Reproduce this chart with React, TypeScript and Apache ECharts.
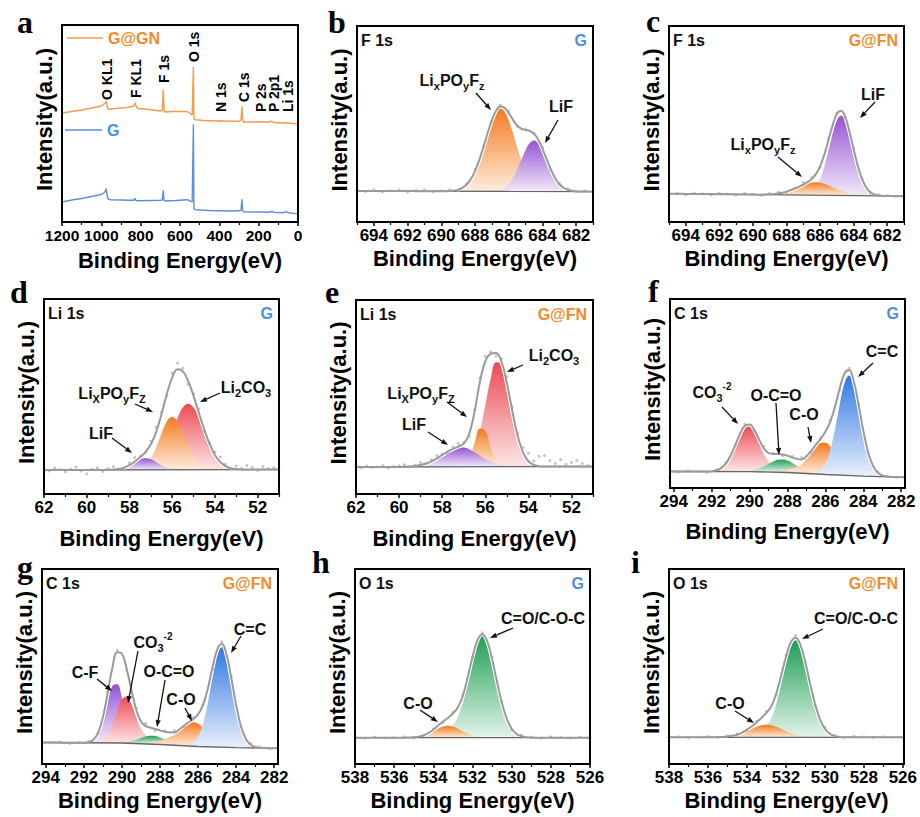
import React, { useEffect, useRef } from "react";
import * as echarts from "echarts";

const SANS = 'Arial, "Liberation Sans", Helvetica, sans-serif';
const SERIF = '"Times New Roman", "Liberation Serif", Times, serif';
const BLUE_TXT = "#4A8FE0";
const ORANGE_TXT = "#F28A2B";

// ---------------- tick labels ----------------
const ticksA = [1200, 1000, 800, 600, 400, 200, 0];
const minorA = [1100, 900, 700, 500, 300, 100];
const ticksF = [694, 692, 690, 688, 686, 684, 682];
const minorF = [695, 693, 691, 689, 687, 685, 683, 681];
const ticksLi = [62, 60, 58, 56, 54, 52];
const minorLi = [61, 59, 57, 55, 53, 51];
const ticksC = [294, 292, 290, 288, 286, 284, 282];
const minorC = [293, 291, 289, 287, 285, 283];
const ticksO = [538, 536, 534, 532, 530, 528, 526];
const minorO = [537, 535, 533, 531, 529, 527];

// ---------------- panel a: survey ----------------
const surveyGGN = [[1200,109],[1150,110.5],[1100,112],[1050,114],[1000,116],[990,117.5],[982,118.5],[976,120.7],[972,118],[966,113],[958,112.7],[930,113.5],[900,114],[870,114.5],[845,115.5],[834,116],[829,119.3],[824,116],[815,113.5],[780,113],[740,112],[700,111],[690,111.5],[685,132.3],[681,111],[675,110],[640,110.5],[600,110.5],[565,110.5],[548,108.5],[538,107],[532,155],[529,103],[522,102.3],[480,101.5],[412,101],[400,101.3],[350,100.8],[300,100.7],[290,102],[285,115.7],[282,103],[278,100],[240,100],[190,100.2],[158,99.7],[134,100.7],[120,99.5],[80,99],[55,99.3],[30,98.5],[0,98.3]];
const surveyG = [[1200,20],[1150,22],[1100,23.5],[1050,25.5],[1000,27.5],[988,29],[980,30.5],[976,33.3],[972,29],[966,23],[955,22.3],[900,22],[860,21.8],[834,21.7],[829,23.7],[824,21.5],[800,21.3],[750,21.5],[700,21.7],[690,22],[685,31.7],[681,21.5],[675,21],[620,21.5],[564,22.3],[548,21],[538,20],[532,97.7],[529,13],[522,12.3],[450,11.5],[400,11.3],[330,11],[290,11.5],[285,22.7],[282,12],[278,10.2],[200,10],[150,9.8],[134,10.5],[120,9.6],[80,9.3],[57,10.4],[52,9.2],[20,8.6],[0,8.3]];
const surveyPeakNames = ["O KL1", "F KL1", "F 1s", "O 1s", "N 1s", "C 1s", "P 2s", "P 2p1", "Li 1s"];

// ---------------- b: F 1s (G) ----------------
const bBaseline = [[695,31],[681,30.5]];
const bLixPOyFz = [[689.5,0.3],[689.25,0.7],[689,1.6],[688.75,3.4],[688.5,6.7],[688.25,12.1],[688,20.2],[687.75,31.1],[687.5,44.3],[687.25,58.3],[687,70.9],[686.75,79.8],[686.5,83],[686.25,79.8],[686,70.9],[685.75,58.3],[685.5,44.3],[685.25,31.1],[685,20.2],[684.75,12.1],[684.5,6.7],[684.25,3.4],[684,1.6],[683.75,0.7],[683.5,0.3]];
const bLiF = [[687,0.2],[686.75,0.7],[686.5,1.7],[686.25,3.7],[686,7.4],[685.75,13.4],[685.5,21.7],[685.25,31.5],[685,41.2],[684.75,48.3],[684.5,51],[684.25,48.3],[684,41.2],[683.75,31.5],[683.5,21.7],[683.25,13.4],[683,7.4],[682.75,3.7],[682.5,1.7],[682.25,0.7],[682,0.2]];
const bResid = [0.8,-0.5,1.2,-1,0.3,1,-0.8,0.5,1.5,-0.6,0.4,1.2,-1,0.6,1.8,0.5,-1.2,1.5,2,-1,1,0.5,1.2,-0.8,0.6,1,-0.5,0.8,0.2];

// ---------------- c: F 1s (G@FN) ----------------
const cBaseline = [[695,28.3],[681,25.8]];
const cLiF = [[687,0.5],[686.75,1.4],[686.5,3.5],[686.25,8.1],[686,16.3],[685.75,28.9],[685.5,45.1],[685.25,62],[685,75.1],[684.75,80],[684.5,75.1],[684.25,62],[684,45.1],[683.75,28.9],[683.5,16.3],[683.25,8.1],[683,3.5],[682.75,1.4],[682.5,0.5]];
const cLixPOyFz = [[689.25,0.2],[689,0.5],[688.75,0.8],[688.5,1.4],[688.25,2.2],[688,3.3],[687.75,4.8],[687.5,6.5],[687.25,8.3],[687,10.1],[686.75,11.6],[686.5,12.6],[686.25,13],[686,12.6],[685.75,11.6],[685.5,10.1],[685.25,8.3],[685,6.5],[684.75,4.8],[684.5,3.3],[684.25,2.2],[684,1.4],[683.75,0.8],[683.5,0.5],[683.25,0.2]];
const cResid = [-0.5,0.6,-1,0.8,0.2,-0.8,1,0.4,-0.6,1.2,0.3,-0.5,1,1.5,-0.8,0.6,2,1.5,-1,1.2,0.8,-0.6,1,0.4,-0.8,0.6,0.2,-0.4,0.5];

// ---------------- d: Li 1s (G) ----------------
const dBaseline = [[62,24],[51,24.5]];
const dLi2CO3 = [[57.75,0.2],[57.5,0.5],[57.25,1.4],[57,3.5],[56.75,7.6],[56.5,14.7],[56.25,25.3],[56,38.5],[55.75,51.9],[55.5,62.2],[55.25,66],[55,62.2],[54.75,51.9],[54.5,38.5],[54.25,25.3],[54,14.7],[53.75,7.6],[53.5,3.5],[53.25,1.4],[53,0.5],[52.75,0.2]];
const dLixPOyFz = [[57.75,0.5],[57.5,1.7],[57.25,4.9],[57,11.6],[56.75,22.5],[56.5,36.2],[56.25,48.2],[56,53],[55.75,48.2],[55.5,36.2],[55.25,22.5],[55,11.6],[54.75,4.9],[54.5,1.7],[54.25,0.5]];
const dLiF = [[58.75,0.3],[58.5,0.9],[58.25,2.2],[58,4.6],[57.75,7.6],[57.5,10.4],[57.25,11.5],[57,10.4],[56.75,7.6],[56.5,4.6],[56.25,2.2],[56,0.9],[55.75,0.3]];
const dResid = [1.5,-1,2,0.5,-2,1,3,-1,-4,0.5,2,-1.5,1,3,0,-2,2.5,4,1,-1,3,5,2,-2,4,6,3,-3,2,4,-2,1,3,5,2,-1,3,1,4,2,-1,3,1,2,0];

// ---------------- e: Li 1s (G@FN) ----------------
const eBaseline = [[62,27],[51,27.5]];
const eLi2CO3 = [[57.25,0.6],[57,2.2],[56.75,6.6],[56.5,16.8],[56.25,35.4],[56,61.3],[55.75,87.9],[55.5,104.4],[55.25,102.4],[55,83.1],[54.75,55.7],[54.5,31],[54.25,14.2],[54,5.4],[53.75,1.7],[53.5,0.4]];
const eLixPOyFz = [[57.25,0.2],[57,1.7],[56.75,8.4],[56.5,23.5],[56.25,38.3],[56,36.3],[55.75,20],[55.5,6.4],[55.25,1.2],[55,0.1]];
const eLiF = [[59.75,0.2],[59.5,0.4],[59.25,0.9],[59,1.8],[58.75,3.3],[58.5,5.5],[58.25,8.4],[58,11.8],[57.75,15.2],[57.5,17.9],[57.25,19.4],[57,19.2],[56.75,17.5],[56.5,14.5],[56.25,11.1],[56,7.8],[55.75,5],[55.5,3],[55.25,1.6],[55,0.8],[54.75,0.4],[54.5,0.2]];
const eResid = [0.5,-1,1,-0.5,0,1.5,-1,0.5,1,2,-0.5,1,2.5,0,1.5,3,1,-1,2,3,1,-2,2,4,5,2,-3,3,6,4,2,5,8,4,10,11,6,3,7,2,4,6,3,1,4];

// ---------------- f: C 1s (G) ----------------
const fBaseline = [[294.25,16.5],[290,16.3],[288,15.5],[286,13.5],[284,11.8],[281.75,10.7]];
const fCO3 = [[292,0.4],[291.75,1.3],[291.5,3.5],[291.25,8.2],[291,16.2],[290.75,26.9],[290.5,38.1],[290.25,45.6],[290,46.4],[289.75,40],[289.5,29.2],[289.25,18.1],[289,11],[288.75,7],[288.5,4.5],[288.25,3],[288,2],[287.75,1.2],[287.5,0.6],[287.25,0.2]];
const fOCO = [[290.25,0.3],[290,0.8],[289.75,1.7],[289.5,3.3],[289.25,5.5],[289,8.1],[288.75,10.7],[288.5,12.5],[288.25,13],[288,11.9],[287.75,9.7],[287.5,7],[287.25,4.5],[287,2.6],[286.75,1.3],[286.5,0.6],[286.25,0.2]];
const fCO = [[288.75,0.6],[288.5,1.2],[288.25,2],[288,3],[287.75,4.5],[287.5,6.5],[287.25,9],[287,14.7],[286.75,21.3],[286.5,27.4],[286.25,31.3],[286,31.7],[285.75,28.5],[285.5,22.7],[285.25,16],[285,10],[284.75,5.6],[284.5,2.7],[284.25,1.2],[284,0.5]];
const fCC = [[286.75,0.3],[286.5,1.3],[286.25,4.1],[286,11],[285.75,24.3],[285.5,45.1],[285.25,70.2],[285,91.5],[284.75,100],[284.5,91.5],[284.25,70.2],[284,45.1],[283.75,24.3],[283.5,11],[283.25,4.1],[283,1.3],[282.75,0.3]];
const fResid = [0.5,-0.5,0.8,0,-0.8,0.6,1,-0.5,1.5,-1,2,0.5,-1.5,1,2,-1,0.5,1.5,-1,2,1,-0.5,1,0.5,-0.5,0.3];

// ---------------- g: C 1s (G@FN) ----------------
const gBaseline = [[294.25,21.5],[290,21],[288,19.5],[286,17.5],[284,16.3],[281.75,15.7]];
const gCF = [[292,0.1],[291.75,0.7],[291.5,2.9],[291.25,9.4],[291,22.8],[290.75,41.6],[290.5,57],[290.25,58.6],[290,45.3],[289.75,26.3],[289.5,11.5],[289.25,3.7],[289,0.9],[288.75,0.2]];
const gCO3 = [[291.5,0.2],[291.25,0.9],[291,2.9],[290.75,8.3],[290.5,18.3],[290.25,31.9],[290,43.5],[289.75,46.8],[289.5,39.5],[289.25,26.3],[289,15],[288.75,9],[288.5,6],[288.25,4],[288,3],[287.75,2],[287.5,1.2],[287.25,0.6]];
const gOCO = [[290.25,0.2],[290,0.5],[289.75,1.2],[289.5,2.3],[289.25,3.9],[289,5.8],[288.75,7.4],[288.5,8.4],[288.25,8.3],[288,7.1],[287.75,5.4],[287.5,3.5],[287.25,2],[287,1],[286.75,0.4]];
const gCO = [[289,0.6],[288.75,1.2],[288.5,2],[288.25,3],[288,4],[287.75,5.5],[287.5,8],[287.25,10.2],[287,14.8],[286.75,19.4],[286.5,22.8],[286.25,24],[286,22.8],[285.75,19.4],[285.5,14.8],[285.25,10.2],[285,6.3],[284.75,3.5],[284.5,1.7],[284.25,0.8],[284,0.3]];
const gCC = [[286.75,0.2],[286.5,0.9],[286.25,3.3],[286,9.3],[285.75,21.8],[285.5,42.5],[285.25,68.4],[285,90.9],[284.75,100],[284.5,90.9],[284.25,68.4],[284,42.5],[283.75,21.8],[283.5,9.3],[283.25,3.3],[283,0.9],[282.75,0.2]];
const gResid = [0.6,-0.4,0.5,-0.7,0.3,0.9,-0.6,1.2,2,-1,1.5,2.5,-1.5,1,1.8,-0.8,1.2,0.5,-1,2,1.5,-0.6,1,0.8,-0.4,0.4];

// ---------------- h: O 1s (G) ----------------
const hBaseline = [[538,26.3],[526,26.3]];
const hCOC = [[534.25,0.6],[534,1.5],[533.75,3],[533.5,5],[533.25,8],[533,13],[532.75,21],[532.5,34.9],[532.25,56],[532,78.6],[531.75,96.3],[531.5,103],[531.25,96.3],[531,78.6],[530.75,56],[530.5,34.9],[530.25,19],[530,9],[529.75,3.7],[529.5,1.4],[529.25,0.4],[529,0.1]];
const hCO = [[535.25,0.2],[535,0.4],[534.75,1],[534.5,2.2],[534.25,4.1],[534,6.5],[533.75,9.2],[533.5,11.2],[533.25,12],[533,11.2],[532.75,9.2],[532.5,6.5],[532.25,4.1],[532,2.2],[531.75,1],[531.5,0.4],[531.25,0.2]];
const hResid = [0.4,-0.5,0.6,-0.3,0.2,0.8,-0.6,0.5,1,-0.8,1.2,1.6,-1,1.5,2,1,-1,1.2,0.6,-0.5,0.8,0.3,-0.4,0.5,0.2];

// ---------------- i: O 1s (G@FN) ----------------
const iBaseline = [[538,26.7],[526,26.7]];
const iCOC = [[534.25,0.5],[534,1.3],[533.75,2.5],[533.5,4.5],[533.25,7.5],[533,12],[532.75,19],[532.5,32.9],[532.25,52.7],[532,74],[531.75,90.7],[531.5,97],[531.25,90.7],[531,74],[530.75,52.7],[530.5,32.9],[530.25,17.9],[530,8.5],[529.75,3.5],[529.5,1.3],[529.25,0.4],[529,0.1]];
const iCO = [[535.75,0.1],[535.5,0.2],[535.25,0.4],[535,0.8],[534.75,1.5],[534.5,2.6],[534.25,4.2],[534,6.3],[533.75,8.5],[533.5,10.5],[533.25,12],[533,12.5],[532.75,12],[532.5,10.5],[532.25,8.5],[532,6.3],[531.75,4.2],[531.5,2.6],[531.25,1.5],[531,0.8],[530.75,0.4],[530.5,0.2],[530.25,0.1]];
const iResid = [-0.4,0.5,-0.6,0.3,0.7,-0.5,0.4,1,-0.7,0.9,1.4,-1.2,1.8,2.2,0.8,-1.2,1.4,0.7,-0.6,0.9,0.4,-0.3,0.6,0.1,-0.5];

// ---------------- colours ----------------
const ORANGE = ["#F47A20", "#FEEDDD"];
const PURPLE = ["#9553D3", "#F2E9FA"];
const RED = ["#EC4B55", "#FDE6E6"];
const GREEN = ["#1F9D55", "#E2F4E9"];
const BLUE = ["#2F78E2", "#E7EFFB"];

// ---------------- annotation texts ----------------
const T_LIX = "{m|Li}{s|x}{m|PO}{s|y}{m|F}{s|z}";
const T_LIX2 = "{m|Li}{s|X}{m|PO}{s|y}{m|F}{s|Z}";
const T_LI2CO3 = "{m|Li}{s|2}{m|CO}{s|3}";
const T_CO3 = "{m|CO}{s|3}{u|-2}";

const panels = [
  { letter: "b", letterPos: [328, 33], rect: [357, 26, 236, 196], xMin: 681, xMax: 695, gridHi: 695, gridLo: 681, ticks: ticksF, minor: minorF, titleY: 258, tickFont: 17,
    baseline: bBaseline, comps: [{ d: bLixPOyFz, c: ORANGE }, { d: bLiF, c: PURPLE }], resid: bResid, rawEvery: 2, core: "F 1s", sample: "G",
    notes: [{ t: T_LIX, x: 452, y: 80, a: [476, 93, 491, 110] }, { t: "{m|LiF}", x: 561, y: 106, a: [558, 120, 545, 143] }] },
  { letter: "c", letterPos: [646, 32], rect: [669, 26, 235, 196], xMin: 681, xMax: 695, gridHi: 695, gridLo: 681, ticks: ticksF, minor: minorF, titleY: 258, tickFont: 17,
    baseline: cBaseline, comps: [{ d: cLiF, c: PURPLE }, { d: cLixPOyFz, c: ORANGE }], resid: cResid, rawEvery: 2, core: "F 1s", sample: "G@FN",
    notes: [{ t: "{m|LiF}", x: 873, y: 94, a: [875, 102, 860, 118] }, { t: T_LIX, x: 763, y: 144, a: [778, 157, 802, 177] }] },
  { letter: "d", letterPos: [10, 303], rect: [44, 299, 235, 195], xMin: 51, xMax: 62, gridHi: 62, gridLo: 51, ticks: ticksLi, minor: minorLi, titleY: 538, tickFont: 17,
    baseline: dBaseline, comps: [{ d: dLi2CO3, c: RED }, { d: dLixPOyFz, c: ORANGE }, { d: dLiF, c: PURPLE }], resid: dResid, rawEvery: 1, core: "Li 1s", sample: "G",
    notes: [{ t: T_LIX2, x: 112, y: 393, a: [135, 404, 153, 412] }, { t: "{m|LiF}", x: 101, y: 433, a: [112, 438, 132, 453] }, { t: T_LI2CO3, x: 246, y: 387, a: [220, 393, 200, 402] }] },
  { letter: "e", letterPos: [325, 303], rect: [356, 300, 237, 194], xMin: 51, xMax: 62, gridHi: 62, gridLo: 51, ticks: ticksLi, minor: minorLi, titleY: 538, tickFont: 17,
    baseline: eBaseline, comps: [{ d: eLi2CO3, c: RED }, { d: eLixPOyFz, c: ORANGE }, { d: eLiF, c: PURPLE }], resid: eResid, rawEvery: 1, core: "Li 1s", sample: "G@FN",
    notes: [{ t: T_LIX2, x: 421, y: 393, a: [447, 402, 467, 417] }, { t: "{m|LiF}", x: 414, y: 424, a: [428, 432, 448, 445] }, { t: T_LI2CO3, x: 554, y: 355, a: [523, 365, 507, 372] }] },
  { letter: "f", letterPos: [648, 302], rect: [670, 299, 235, 189], xMin: 281.8, xMax: 294.2, gridHi: 294.25, gridLo: 281.75, ticks: ticksC, minor: minorC, titleY: 531, tickFont: 17,
    baseline: fBaseline, comps: [{ d: fCO3, c: RED }, { d: fOCO, c: GREEN }, { d: fCO, c: ORANGE }, { d: fCC, c: BLUE }], resid: fResid, rawEvery: 2, core: "C 1s", sample: "G",
    notes: [{ t: T_CO3, x: 712, y: 392, a: [722, 407, 738, 424] }, { t: "{m|O-C=O}", x: 776, y: 395, a: [776, 403, 779, 455] }, { t: "{m|C-O}", x: 804, y: 414, a: [808, 427, 811, 443] }, { t: "{m|C=C}", x: 882, y: 351, a: [873, 363, 858, 377] }] },
  { letter: "g", letterPos: [17, 578], rect: [42, 569, 236, 195], xMin: 281.8, xMax: 294.2, gridHi: 294.25, gridLo: 281.75, ticks: ticksC, minor: minorC, titleY: 800, tickFont: 17,
    baseline: gBaseline, comps: [{ d: gCF, c: PURPLE }, { d: gCO3, c: RED }, { d: gOCO, c: GREEN }, { d: gCO, c: ORANGE }, { d: gCC, c: BLUE }], resid: gResid, rawEvery: 2, core: "C 1s", sample: "G@FN",
    notes: [{ t: "{m|C-F}", x: 85, y: 672, a: [97, 679, 112, 691] }, { t: T_CO3, x: 153, y: 642, a: [138, 651, 128, 703] }, { t: "{m|O-C=O}", x: 169, y: 671, a: [165, 680, 157, 727] }, { t: "{m|C-O}", x: 181, y: 699, a: [185, 708, 192, 721] }, { t: "{m|C=C}", x: 250, y: 629, a: [241, 636, 231, 653] }] },
  { letter: "h", letterPos: [312, 573], rect: [355, 569, 235, 195], xMin: 526, xMax: 538, gridHi: 538, gridLo: 526, ticks: ticksO, minor: minorO, titleY: 800, tickFont: 17,
    baseline: hBaseline, comps: [{ d: hCOC, c: GREEN }, { d: hCO, c: ORANGE }], resid: hResid, rawEvery: 2, core: "O 1s", sample: "G",
    notes: [{ t: "{m|C=O/C-O-C}", x: 543, y: 618, a: [513, 628, 490, 638] }, { t: "{m|C-O}", x: 418, y: 703, a: [420, 710, 438, 722] }] },
  { letter: "i", letterPos: [631, 573], rect: [669, 569, 235, 195], xMin: 526, xMax: 538, gridHi: 538, gridLo: 526, ticks: ticksO, minor: minorO, titleY: 800, tickFont: 17,
    baseline: iBaseline, comps: [{ d: iCOC, c: GREEN }, { d: iCO, c: ORANGE }], resid: iResid, rawEvery: 2, core: "O 1s", sample: "G@FN",
    notes: [{ t: "{m|C=O/C-O-C}", x: 856, y: 618, a: [823, 629, 802, 639] }, { t: "{m|C-O}", x: 730, y: 703, a: [735, 711, 754, 723] }] },
];

const panelA = { letter: "a", letterPos: [17, 33], rect: [62, 25, 236, 197], xMin: 0, xMax: 1200, ticks: ticksA, minor: minorA, titleY: 260, tickFont: 15.5 };

// anchors (bottom of vertical text) for the survey peak names
const surveyLabelPos = [[107, 100], [136, 98], [164, 83], [194, 62], [221, 112], [244, 102], [261, 112], [274, 112], [288, 112]];

const RICH = {
  m: { fontSize: 16, fontWeight: "bold", fontFamily: SANS, lineHeight: 22, fill: "#111" },
  s: { fontSize: 11, fontWeight: "bold", fontFamily: SANS, lineHeight: 12, verticalAlign: "bottom", fill: "#111" },
  u: { fontSize: 10, fontWeight: "bold", fontFamily: SANS, lineHeight: 12, verticalAlign: "top", fill: "#111" },
};

function lineAt(pts: number[][], x: number) {
  for (let i = 0; i < pts.length - 1; i++) {
    const [x0, y0] = pts[i];
    const [x1, y1] = pts[i + 1];
    if ((x <= x0 && x >= x1) || (x >= x0 && x <= x1)) {
      const t = (x - x0) / (x1 - x0);
      return y0 + t * (y1 - y0);
    }
  }
  return Math.abs(x - pts[0][0]) < Math.abs(x - pts[pts.length - 1][0]) ? pts[0][1] : pts[pts.length - 1][1];
}

function arrow(x1: number, y1: number, x2: number, y2: number) {
  const dx = x2 - x1, dy = y2 - y1;
  const L = Math.hypot(dx, dy);
  const ux = dx / L, uy = dy / L;
  const hl = 7, hw = 2.6;
  const bx = x2 - ux * hl, by = y2 - uy * hl;
  return [
    { type: "line", z: 100, silent: true, shape: { x1, y1, x2: bx, y2: by }, style: { stroke: "#111", lineWidth: 1.3 } },
    { type: "polygon", z: 100, silent: true, shape: { points: [[x2, y2], [bx - uy * hw, by + ux * hw], [bx + uy * hw, by - ux * hw]] }, style: { fill: "#111" } },
  ];
}

function txt(x: number, y: number, text: string, font: string, fill: string, align: string, valign: string, rotation = 0) {
  return { type: "text", z: 100, silent: true, x, y, rotation, style: { text, font, fill, textAlign: align, textVerticalAlign: valign } };
}

function buildOption() {
  const grid: any[] = [], xAxis: any[] = [], yAxis: any[] = [], series: any[] = [], graphic: any[] = [];
  const all: any[] = [panelA, ...panels];

  all.forEach((p, gi) => {
    const [l, t, w, h] = p.rect;
    grid.push({ left: l, top: t, width: w, height: h, show: false });
    xAxis.push({
      type: "value", gridIndex: gi, min: p.xMin, max: p.xMax, inverse: true, position: "bottom",
      axisLine: { show: true, onZero: false, lineStyle: { color: "#000", width: 2 } },
      axisTick: { show: true, inside: false, length: 4, customValues: p.ticks, lineStyle: { color: "#000", width: 1.5 } },
      axisLabel: { show: true, customValues: p.ticks, showMinLabel: true, showMaxLabel: true, hideOverlap: false, formatter: (v: number) => String(v), color: "#000", fontSize: p.tickFont, fontWeight: "bold", fontFamily: SANS, margin: 5 },
      splitLine: { show: false },
    });
    xAxis.push({
      type: "value", gridIndex: gi, min: p.xMin, max: p.xMax, inverse: true, position: "bottom",
      axisLine: { show: false },
      axisTick: { show: true, inside: false, length: 3, customValues: p.minor, lineStyle: { color: "#000", width: 1.2 } },
      axisLabel: { show: false }, splitLine: { show: false },
    });
    yAxis.push({ type: "value", gridIndex: gi, min: 0, max: h, show: false });

    // frame
    graphic.push({ type: "rect", z: 99, silent: true, shape: { x: l, y: t, width: w, height: h }, style: { fill: "none", stroke: "#000", lineWidth: 2 } });
    // common texts
    graphic.push(txt(p.letterPos[0], p.letterPos[1] - 11, p.letter, `bold 32px ${SERIF}`, "#000", "left", "middle"));
    graphic.push(txt(l + w / 2, p.titleY, "Binding Energy(eV)", `bold 22px ${SANS}`, "#000", "center", "middle"));
    graphic.push(txt(l - 18, t + h / 2 - 4, "Intensity(a.u.)", `bold 22px ${SANS}`, "#000", "center", "middle", Math.PI / 2));
  });

  // ---- panel a ----
  series.push({ type: "line", xAxisIndex: 0, yAxisIndex: 0, data: surveyGGN, symbol: "none", silent: true, lineStyle: { color: "#F39B4F", width: 1.4 }, z: 3 });
  series.push({ type: "line", xAxisIndex: 0, yAxisIndex: 0, data: surveyG, symbol: "none", silent: true, lineStyle: { color: "#5B8FDB", width: 1.4 }, z: 3 });
  surveyPeakNames.forEach((n, k) => {
    graphic.push(txt(surveyLabelPos[k][0], surveyLabelPos[k][1], n, `bold 14px ${SANS}`, "#000", "left", "middle", Math.PI / 2));
  });
  graphic.push({ type: "line", z: 100, silent: true, shape: { x1: 67, y1: 38, x2: 103, y2: 38 }, style: { stroke: "#F39B4F", lineWidth: 1.6 } });
  graphic.push(txt(108, 38.5, "G@GN", `bold 16px ${SANS}`, ORANGE_TXT, "left", "middle"));
  graphic.push({ type: "line", z: 100, silent: true, shape: { x1: 65, y1: 130, x2: 102, y2: 130 }, style: { stroke: "#5B8FDB", lineWidth: 1.6 } });
  graphic.push(txt(107, 130.5, "G", `bold 16px ${SANS}`, BLUE_TXT, "left", "middle"));

  // ---- fitted panels ----
  panels.forEach((p, k) => {
    const gi = k + 1;
    const xi = gi * 2;
    const [l, t, w] = p.rect;
    const xs: number[] = [];
    const n = Math.round((p.gridHi - p.gridLo) / 0.25);
    for (let i = 0; i <= n; i++) xs.push(+(p.gridHi - i * 0.25).toFixed(2));
    const base = xs.map((x) => lineAt(p.baseline, x));
    const full = p.comps.map((c: any) => {
      const m = new Map(c.d.map((pt: number[]) => [pt[0].toFixed(2), pt[1]]));
      return xs.map((x) => (m.get(x.toFixed(2)) as number) ?? 0);
    });
    const env = xs.map((x, i) => base[i] + full.reduce((s: number, a: number[]) => s + a[i], 0));

    // component fills: filled down to axis bottom, part below the baseline is masked afterwards
    p.comps.forEach((c: any, ci: number) => {
      const abs = xs.map((x, i) => base[i] + full[ci][i]);
      let top = 0, topI = 0;
      abs.forEach((v, i) => { if (v > top) { top = v; topI = i; } });
      const frac = Math.min(0.99, Math.max(0.05, (top - base[topI]) / top));
      const gradient = new echarts.graphic.LinearGradient(0, 0, 0, 1, [
        { offset: 0, color: c.c[0] },
        { offset: frac, color: c.c[1] },
        { offset: 1, color: c.c[1] },
      ]);
      series.push({ type: "line", xAxisIndex: xi, yAxisIndex: gi, silent: true, symbol: "none", smooth: 0.4,
        data: xs.map((x, i) => [x, abs[i]]), lineStyle: { width: 0, opacity: 0 }, areaStyle: { color: gradient, opacity: 1 }, z: 2 });
    });
    // white mask below the baseline
    series.push({ type: "line", xAxisIndex: xi, yAxisIndex: gi, silent: true, symbol: "none",
      data: xs.map((x, i) => [x, base[i]]), lineStyle: { width: 0, opacity: 0 }, areaStyle: { color: "#ffffff", opacity: 1 }, z: 2 });

    const envData = xs.map((x, i) => [x, env[i]]);
    series.push({ type: "line", xAxisIndex: xi, yAxisIndex: gi, silent: true, symbol: "none", smooth: 0.4, data: envData, lineStyle: { color: "#ffffff", width: 4 }, z: 3 });
    series.push({ type: "line", xAxisIndex: xi, yAxisIndex: gi, silent: true, symbol: "none", data: p.baseline, lineStyle: { color: "#666", width: 1.3 }, z: 4 });
    const raw: number[][] = [];
    for (let i = 0, r = 0; i < xs.length && r < p.resid.length; i += p.rawEvery, r++) raw.push([xs[i], env[i] + p.resid[r]]);
    series.push({ type: "scatter", xAxisIndex: xi, yAxisIndex: gi, silent: true, data: raw, symbolSize: 3, itemStyle: { color: "#b5b5b5" }, z: 5 });
    series.push({ type: "line", xAxisIndex: xi, yAxisIndex: gi, silent: true, symbol: "none", smooth: 0.4, data: envData, lineStyle: { color: "#9a9a9a", width: 2 }, z: 6 });

    graphic.push(txt(l + 4, t + 14.5, p.core, `bold 16px ${SANS}`, "#111", "left", "middle"));
    graphic.push(txt(l + w - 6, t + 14.5, p.sample, `bold 16px ${SANS}`, p.sample === "G" ? BLUE_TXT : ORANGE_TXT, "right", "middle"));
    p.notes.forEach((nt: any) => {
      graphic.push({ type: "text", z: 100, silent: true, x: nt.x, y: nt.y, style: { text: nt.t, rich: RICH, fill: "#111", textAlign: "center", textVerticalAlign: "middle" } });
      arrow(nt.a[0], nt.a[1], nt.a[2], nt.a[3]).forEach((e) => graphic.push(e));
    });
  });

  return { animation: false, backgroundColor: "#fff", grid, xAxis, yAxis, series, graphic: { elements: graphic } };
}

export default function App() {
  const ref = useRef<HTMLDivElement>(null);
  useEffect(() => {
    document.body.style.margin = "0";
    const chart = echarts.init(ref.current as HTMLDivElement, undefined, { renderer: "svg", width: 920, height: 817 });
    chart.setOption(buildOption() as any);
    return () => chart.dispose();
  }, []);
  return <div ref={ref} style={{ position: "absolute", left: 0, top: 0, width: 920, height: 817, background: "#fff" }} />;
}
